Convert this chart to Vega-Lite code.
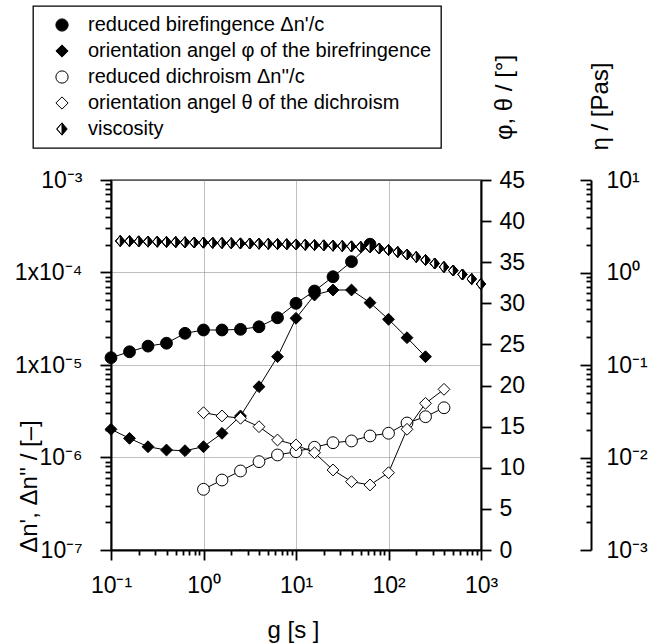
{
  "$schema": "https://vega.github.io/schema/vega-lite/v6.json",
  "width": 370,
  "height": 370,
  "autosize": {"type": "none"},
  "padding": {"left": 111, "top": 180, "right": 171, "bottom": 93},
  "background": "white",
  "config": {
    "view": {"stroke": "black", "strokeWidth": 1.3},
    "axis": {
      "labelFont": "Liberation Sans", "titleFont": "Liberation Sans",
      "labelFontSize": 23, "titleFontSize": 24, "titleFontWeight": "normal",
      "labelColor": "black", "titleColor": "black",
      "domainColor": "black", "domainWidth": 2,
      "ticks": true, "tickColor": "black", "tickWidth": 1.8, "tickOpacity": 1,
      "gridColor": "#808080", "gridDash": [1, 1], "gridWidth": 1,
      "labelFlush": false, "labelOverlap": false, "labelBound": false
    },
    "legend": {"strokeWidth": 1.3}
  },
  "datasets": {
    "left": [
      {"g": 0.1, "v": 1.20e-5, "series": "reduced birefingence Δn'/c"},
      {"g": 0.1585, "v": 1.39e-5, "series": "reduced birefingence Δn'/c"},
      {"g": 0.2512, "v": 1.60e-5, "series": "reduced birefingence Δn'/c"},
      {"g": 0.3981, "v": 1.72e-5, "series": "reduced birefingence Δn'/c"},
      {"g": 0.631, "v": 2.20e-5, "series": "reduced birefingence Δn'/c"},
      {"g": 1, "v": 2.39e-5, "series": "reduced birefingence Δn'/c"},
      {"g": 1.585, "v": 2.39e-5, "series": "reduced birefingence Δn'/c"},
      {"g": 2.512, "v": 2.43e-5, "series": "reduced birefingence Δn'/c"},
      {"g": 3.981, "v": 2.59e-5, "series": "reduced birefingence Δn'/c"},
      {"g": 6.31, "v": 3.24e-5, "series": "reduced birefingence Δn'/c"},
      {"g": 10, "v": 4.64e-5, "series": "reduced birefingence Δn'/c"},
      {"g": 15.85, "v": 6.31e-5, "series": "reduced birefingence Δn'/c"},
      {"g": 25.12, "v": 9.0e-5, "series": "reduced birefingence Δn'/c"},
      {"g": 39.81, "v": 1.31e-4, "series": "reduced birefingence Δn'/c"},
      {"g": 63.1, "v": 2.02e-4, "series": "reduced birefingence Δn'/c"},
      {"g": 1, "v": 4.53e-7, "series": "reduced dichroism Δn''/c"},
      {"g": 1.585, "v": 5.71e-7, "series": "reduced dichroism Δn''/c"},
      {"g": 2.512, "v": 7.15e-7, "series": "reduced dichroism Δn''/c"},
      {"g": 3.981, "v": 9.02e-7, "series": "reduced dichroism Δn''/c"},
      {"g": 6.31, "v": 1.065e-6, "series": "reduced dichroism Δn''/c"},
      {"g": 10, "v": 1.156e-6, "series": "reduced dichroism Δn''/c"},
      {"g": 15.85, "v": 1.29e-6, "series": "reduced dichroism Δn''/c"},
      {"g": 25.12, "v": 1.445e-6, "series": "reduced dichroism Δn''/c"},
      {"g": 39.81, "v": 1.51e-6, "series": "reduced dichroism Δn''/c"},
      {"g": 63.1, "v": 1.71e-6, "series": "reduced dichroism Δn''/c"},
      {"g": 100, "v": 1.83e-6, "series": "reduced dichroism Δn''/c"},
      {"g": 158.5, "v": 2.36e-6, "series": "reduced dichroism Δn''/c"},
      {"g": 251.2, "v": 2.76e-6, "series": "reduced dichroism Δn''/c"},
      {"g": 398.1, "v": 3.45e-6, "series": "reduced dichroism Δn''/c"}
    ],
    "angle": [
      {"g": 0.1, "a": 14.68, "series": "orientation angel φ of the birefringence"},
      {"g": 0.1585, "a": 13.58, "series": "orientation angel φ of the birefringence"},
      {"g": 0.2512, "a": 12.56, "series": "orientation angel φ of the birefringence"},
      {"g": 0.3981, "a": 12.16, "series": "orientation angel φ of the birefringence"},
      {"g": 0.631, "a": 12.08, "series": "orientation angel φ of the birefringence"},
      {"g": 1, "a": 12.56, "series": "orientation angel φ of the birefringence"},
      {"g": 1.585, "a": 14.19, "series": "orientation angel φ of the birefringence"},
      {"g": 2.512, "a": 16.30, "series": "orientation angel φ of the birefringence"},
      {"g": 3.981, "a": 19.86, "series": "orientation angel φ of the birefringence"},
      {"g": 6.31, "a": 23.51, "series": "orientation angel φ of the birefringence"},
      {"g": 10, "a": 28.18, "series": "orientation angel φ of the birefringence"},
      {"g": 15.85, "a": 31.01, "series": "orientation angel φ of the birefringence"},
      {"g": 25.12, "a": 31.62, "series": "orientation angel φ of the birefringence"},
      {"g": 39.81, "a": 31.62, "series": "orientation angel φ of the birefringence"},
      {"g": 63.1, "a": 30.08, "series": "orientation angel φ of the birefringence"},
      {"g": 100, "a": 28.06, "series": "orientation angel φ of the birefringence"},
      {"g": 158.5, "a": 25.82, "series": "orientation angel φ of the birefringence"},
      {"g": 251.2, "a": 23.51, "series": "orientation angel φ of the birefringence"},
      {"g": 1, "a": 16.70, "series": "orientation angel θ of the dichroism"},
      {"g": 1.585, "a": 16.30, "series": "orientation angel θ of the dichroism"},
      {"g": 2.512, "a": 16.02, "series": "orientation angel θ of the dichroism"},
      {"g": 3.981, "a": 15.0, "series": "orientation angel θ of the dichroism"},
      {"g": 6.31, "a": 13.38, "series": "orientation angel θ of the dichroism"},
      {"g": 10, "a": 12.77, "series": "orientation angel θ of the dichroism"},
      {"g": 15.85, "a": 11.83, "series": "orientation angel θ of the dichroism"},
      {"g": 25.12, "a": 9.73, "series": "orientation angel θ of the dichroism"},
      {"g": 39.81, "a": 8.31, "series": "orientation angel θ of the dichroism"},
      {"g": 63.1, "a": 7.91, "series": "orientation angel θ of the dichroism"},
      {"g": 100, "a": 9.40, "series": "orientation angel θ of the dichroism"},
      {"g": 158.5, "a": 14.68, "series": "orientation angel θ of the dichroism"},
      {"g": 251.2, "a": 17.84, "series": "orientation angel θ of the dichroism"},
      {"g": 398.1, "a": 19.54, "series": "orientation angel θ of the dichroism"}
    ],
    "visc": [
      {"g": 0.1259, "eta": 2.191, "series": "viscosity"},
      {"g": 0.1585, "eta": 2.180, "series": "viscosity"},
      {"g": 0.1995, "eta": 2.169, "series": "viscosity"},
      {"g": 0.2512, "eta": 2.158, "series": "viscosity"},
      {"g": 0.3162, "eta": 2.153, "series": "viscosity"},
      {"g": 0.3981, "eta": 2.142, "series": "viscosity"},
      {"g": 0.5012, "eta": 2.131, "series": "viscosity"},
      {"g": 0.631, "eta": 2.121, "series": "viscosity"},
      {"g": 0.7943, "eta": 2.110, "series": "viscosity"},
      {"g": 1, "eta": 2.105, "series": "viscosity"},
      {"g": 1.259, "eta": 2.094, "series": "viscosity"},
      {"g": 1.585, "eta": 2.084, "series": "viscosity"},
      {"g": 1.995, "eta": 2.074, "series": "viscosity"},
      {"g": 2.512, "eta": 2.063, "series": "viscosity"},
      {"g": 3.162, "eta": 2.058, "series": "viscosity"},
      {"g": 3.981, "eta": 2.048, "series": "viscosity"},
      {"g": 5.012, "eta": 2.038, "series": "viscosity"},
      {"g": 6.31, "eta": 2.028, "series": "viscosity"},
      {"g": 7.943, "eta": 2.018, "series": "viscosity"},
      {"g": 10, "eta": 2.008, "series": "viscosity"},
      {"g": 12.59, "eta": 1.993, "series": "viscosity"},
      {"g": 15.85, "eta": 1.978, "series": "viscosity"},
      {"g": 19.95, "eta": 1.963, "series": "viscosity"},
      {"g": 25.12, "eta": 1.949, "series": "viscosity"},
      {"g": 31.62, "eta": 1.934, "series": "viscosity"},
      {"g": 39.81, "eta": 1.915, "series": "viscosity"},
      {"g": 50.12, "eta": 1.891, "series": "viscosity"},
      {"g": 63.1, "eta": 1.863, "series": "viscosity"},
      {"g": 79.43, "eta": 1.817, "series": "viscosity"},
      {"g": 100, "eta": 1.751, "series": "viscosity"},
      {"g": 125.9, "eta": 1.666, "series": "viscosity"},
      {"g": 158.5, "eta": 1.565, "series": "viscosity"},
      {"g": 199.5, "eta": 1.471, "series": "viscosity"},
      {"g": 251.2, "eta": 1.365, "series": "viscosity"},
      {"g": 316.2, "eta": 1.251, "series": "viscosity"},
      {"g": 398.1, "eta": 1.147, "series": "viscosity"},
      {"g": 501.2, "eta": 1.051, "series": "viscosity"},
      {"g": 631, "eta": 0.951, "series": "viscosity"},
      {"g": 794.3, "eta": 0.850, "series": "viscosity"},
      {"g": 1000, "eta": 0.751, "series": "viscosity"}
    ]
  },
  "layer": [
    {
      "data": {"name": "left"},
      "encoding": {
        "x": {
          "field": "g", "type": "quantitative",
          "scale": {"type": "log", "domain": [0.1, 1000], "nice": false},
          "axis": {
            "values": [0.1,0.2,0.3,0.4,0.5,0.6,0.7,0.8,0.9,1,2,3,4,5,6,7,8,9,10,20,30,40,50,60,70,80,90,100,200,300,400,500,600,700,800,900,1000],
            "tickSize": {"condition": {"test": "abs(log(datum.value)/LN10 - round(log(datum.value)/LN10)) < 0.01", "value": 10}, "value": 5},
            "labelPadding": 14,
            "labelExpr": "abs(log(datum.value)/LN10 - round(log(datum.value)/LN10)) > 0.01 ? '' : round(log(datum.value)/LN10) == -1 ? '10⁻¹' : round(log(datum.value)/LN10) == 0 ? '10⁰' : round(log(datum.value)/LN10) == 1 ? '10¹' : round(log(datum.value)/LN10) == 2 ? '10²' : '10³'",
            "grid": true,
            "gridOpacity": {"condition": {"test": "abs(log(datum.value)/LN10 - round(log(datum.value)/LN10)) < 0.01", "value": 1}, "value": 0},
            "title": "g [s ]",
            "titleX": 182, "titleY": 80, "titleAlign": "center", "titleBaseline": "middle"
          }
        },
        "y": {
          "field": "v", "type": "quantitative",
          "scale": {"type": "log", "domain": [1e-7, 1e-3], "nice": false},
          "axis": {
            "orient": "left",
            "values": [1e-7,2e-7,3e-7,4e-7,5e-7,6e-7,7e-7,8e-7,9e-7,1e-6,2e-6,3e-6,4e-6,5e-6,6e-6,7e-6,8e-6,9e-6,1e-5,2e-5,3e-5,4e-5,5e-5,6e-5,7e-5,8e-5,9e-5,1e-4,2e-4,3e-4,4e-4,5e-4,6e-4,7e-4,8e-4,9e-4,1e-3],
            "tickSize": {"condition": {"test": "abs(log(datum.value)/LN10 - round(log(datum.value)/LN10)) < 0.01", "value": 11}, "value": 6},
            "labelPadding": 18,
            "labelExpr": "abs(log(datum.value)/LN10 - round(log(datum.value)/LN10)) > 0.01 ? '' : round(log(datum.value)/LN10) == -3 ? '10⁻³' : round(log(datum.value)/LN10) == -4 ? '1x10⁻⁴' : round(log(datum.value)/LN10) == -5 ? '1x10⁻⁵' : round(log(datum.value)/LN10) == -6 ? '10⁻⁶' : '10⁻⁷'",
            "grid": true,
            "gridOpacity": {"condition": {"test": "abs(log(datum.value)/LN10 - round(log(datum.value)/LN10)) < 0.01", "value": 1}, "value": 0},
            "title": "Δn', Δn'' / [–]",
            "titleAngle": 270, "titleX": -82, "titleY": 306, "titleAlign": "center", "titleBaseline": "middle"
          }
        }
      },
      "layer": [
        {"mark": {"type": "line", "color": "black", "strokeWidth": 1}, "encoding": {"detail": {"field": "series"}}},
        {
          "mark": {"type": "point", "filled": true, "size": 140, "opacity": 1, "strokeWidth": 1},
          "encoding": {
            "shape": {"field": "series", "type": "nominal",
              "scale": {"domain": ["reduced birefingence Δn'/c", "orientation angel φ of the birefringence", "reduced dichroism Δn''/c", "orientation angel θ of the dichroism", "viscosity"],
                        "range": ["circle", "diamond", "circle", "diamond", "M0,-1L0.85,0L0,1Z M0,-1L-0.85,0L0,1L-0.85,0Z"]},
              "legend": {"title": null, "orient": "none", "legendX": -78, "legendY": -174, "strokeColor": "black", "fillColor": "white", "padding": 9, "symbolOffset": 10, "labelOffset": 16, "labelFont": "Liberation Sans", "labelFontSize": 20, "labelColor": "black", "rowPadding": 6, "symbolSize": 150, "symbolStrokeWidth": 1, "symbolStrokeColor": "black", "symbolOpacity": 1, "labelLimit": 500}},
            "fill": {"field": "series", "type": "nominal",
              "scale": {"domain": ["reduced birefingence Δn'/c", "orientation angel φ of the birefringence", "reduced dichroism Δn''/c", "orientation angel θ of the dichroism", "viscosity"],
                        "range": ["black", "black", "white", "white", "black"]}},
            "stroke": {"field": "series", "type": "nominal",
              "scale": {"domain": ["reduced birefingence Δn'/c", "orientation angel φ of the birefringence", "reduced dichroism Δn''/c", "orientation angel θ of the dichroism", "viscosity"],
                        "range": ["black", "black", "black", "black", "black"]}}
          }
        }
      ]
    },
    {
      "data": {"name": "angle"},
      "encoding": {
        "x": {"field": "g", "type": "quantitative", "scale": {"type": "log", "domain": [0.1, 1000], "nice": false}, "axis": null},
        "y": {
          "field": "a", "type": "quantitative",
          "scale": {"type": "linear", "domain": [0, 45], "nice": false, "zero": false},
          "axis": {
            "orient": "right",
            "values": [0, 5, 10, 15, 20, 25, 30, 35, 40, 45],
            "tickSize": 10, "labelPadding": 8, "grid": false,
            "title": "φ, θ / [°]",
            "titleAngle": 270, "titleX": 23, "titleY": -83, "titleAlign": "center", "titleBaseline": "middle"
          }
        }
      },
      "layer": [
        {"mark": {"type": "line", "color": "black", "strokeWidth": 1}, "encoding": {"detail": {"field": "series"}}},
        {
          "mark": {"type": "point", "filled": true, "size": 140, "opacity": 1, "strokeWidth": 1},
          "encoding": {
            "shape": {"field": "series", "type": "nominal",
              "scale": {"domain": ["reduced birefingence Δn'/c", "orientation angel φ of the birefringence", "reduced dichroism Δn''/c", "orientation angel θ of the dichroism", "viscosity"],
                        "range": ["circle", "diamond", "circle", "diamond", "M0,-1L0.85,0L0,1Z M0,-1L-0.85,0L0,1L-0.85,0Z"]}},
            "fill": {"field": "series", "type": "nominal",
              "scale": {"domain": ["reduced birefingence Δn'/c", "orientation angel φ of the birefringence", "reduced dichroism Δn''/c", "orientation angel θ of the dichroism", "viscosity"],
                        "range": ["black", "black", "white", "white", "black"]}},
            "stroke": {"field": "series", "type": "nominal",
              "scale": {"domain": ["reduced birefingence Δn'/c", "orientation angel φ of the birefringence", "reduced dichroism Δn''/c", "orientation angel θ of the dichroism", "viscosity"],
                        "range": ["black", "black", "black", "black", "black"]}}
          }
        }
      ]
    },
    {
      "data": {"name": "visc"},
      "encoding": {
        "x": {"field": "g", "type": "quantitative", "scale": {"type": "log", "domain": [0.1, 1000], "nice": false}, "axis": null},
        "y": {
          "field": "eta", "type": "quantitative",
          "scale": {"type": "log", "domain": [0.001, 10], "nice": false},
          "axis": {
            "orient": "right", "offset": 110,
            "values": [0.001,0.002,0.003,0.004,0.005,0.006,0.007,0.008,0.009,0.01,0.02,0.03,0.04,0.05,0.06,0.07,0.08,0.09,0.1,0.2,0.3,0.4,0.5,0.6,0.7,0.8,0.9,1,2,3,4,5,6,7,8,9,10],
            "tickSize": {"condition": {"test": "abs(log(datum.value)/LN10 - round(log(datum.value)/LN10)) < 0.01", "value": -11}, "value": -5},
            "labelPadding": 26,
            "labelAlign": "left",
            "labelExpr": "abs(log(datum.value)/LN10 - round(log(datum.value)/LN10)) > 0.01 ? '' : round(log(datum.value)/LN10) == -3 ? '10⁻³' : round(log(datum.value)/LN10) == -2 ? '10⁻²' : round(log(datum.value)/LN10) == -1 ? '10⁻¹' : round(log(datum.value)/LN10) == 0 ? '10⁰' : '10¹'",
            "grid": false,
            "title": "η / [Pas]",
            "titleAngle": 270, "titleX": 9, "titleY": -74, "titleAlign": "center", "titleBaseline": "middle"
          }
        }
      },
      "layer": [
        {"mark": {"type": "point", "filled": true, "size": 121, "opacity": 1, "strokeWidth": 1, "fill": "white", "stroke": "black", "shape": "M0,-1L0.85,0L0,1L-0.85,0Z"}},
        {
          "mark": {"type": "point", "filled": true, "size": 121, "opacity": 1, "strokeWidth": 1},
          "encoding": {
            "shape": {"field": "series", "type": "nominal",
              "scale": {"domain": ["reduced birefingence Δn'/c", "orientation angel φ of the birefringence", "reduced dichroism Δn''/c", "orientation angel θ of the dichroism", "viscosity"],
                        "range": ["circle", "diamond", "circle", "diamond", "M0,-1L0.85,0L0,1Z M0,-1L-0.85,0L0,1L-0.85,0Z"]}},
            "fill": {"field": "series", "type": "nominal",
              "scale": {"domain": ["reduced birefingence Δn'/c", "orientation angel φ of the birefringence", "reduced dichroism Δn''/c", "orientation angel θ of the dichroism", "viscosity"],
                        "range": ["black", "black", "white", "white", "black"]}},
            "stroke": {"field": "series", "type": "nominal",
              "scale": {"domain": ["reduced birefingence Δn'/c", "orientation angel φ of the birefringence", "reduced dichroism Δn''/c", "orientation angel θ of the dichroism", "viscosity"],
                        "range": ["black", "black", "black", "black", "black"]}}
          }
        }
      ]
    }
  ],
  "resolve": {"scale": {"y": "independent"}, "axis": {"x": "independent"}}
}
